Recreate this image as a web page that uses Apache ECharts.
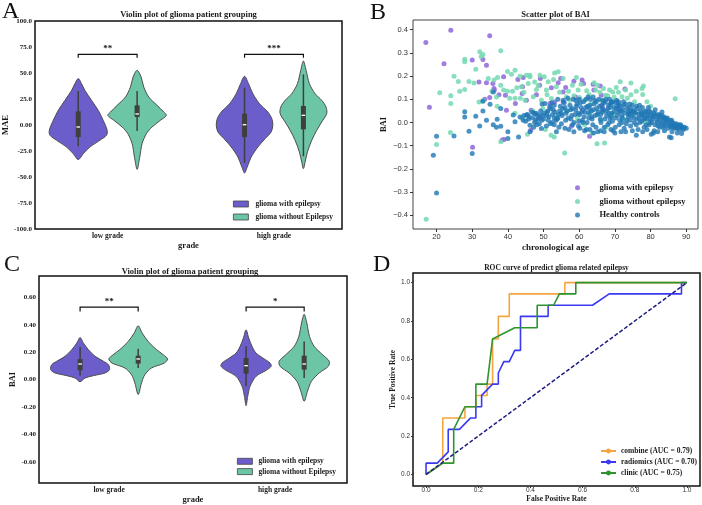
<!DOCTYPE html>
<html>
<head>
<meta charset="utf-8">
<script src="https://cdn.jsdelivr.net/npm/echarts@6/dist/echarts.min.js"></script>
<style>
  html, body { margin: 0; background: #fff; }
  #chart { width: 702px; height: 505px; }
</style>
</head>
<body>
<div id="chart"></div>
<script>
const SERIF = 'Liberation Serif, Times New Roman, serif';
const SANS = 'Liberation Sans, Arial, sans-serif';

const gradeLabels = ['low grade', 'high grade'];
const gradePos = [0, 1];

// violin profiles: [value, half width in category units]
const maeLowWith = [[44.6, 0], [39.7, 0.02], [33.3, 0.04], [23.7, 0.08], [14.1, 0.12], [4.5, 0.15], [-5.1, 0.174], [-9.9, 0.17], [-14.7, 0.13], [-21.2, 0.07], [-27.6, 0.03], [-33.3, 0]];
const maeLowWithout = [[52.6, 0], [46.2, 0.024], [36.5, 0.04], [26.9, 0.07], [18.9, 0.12], [12.5, 0.16], [9.3, 0.176], [4.5, 0.14], [-1.9, 0.09], [-8.3, 0.056], [-17.9, 0.03], [-30.8, 0.016], [-42.6, 0]];
const maeHighWith = [[46.8, 0], [39.7, 0.024], [30.1, 0.05], [20.5, 0.09], [12.5, 0.14], [6.1, 0.164], [-0.3, 0.17], [-6.7, 0.16], [-13.1, 0.124], [-21.2, 0.08], [-30.8, 0.04], [-40.4, 0.016], [-46.2, 0]];
const maeHighWithout = [[61.5, 0], [52.6, 0.016], [39.7, 0.036], [30.1, 0.07], [23.7, 0.11], [17.3, 0.136], [10.9, 0.14], [2.9, 0.11], [-5.1, 0.08], [-14.7, 0.05], [-26, 0.024], [-35.6, 0.01], [-42, 0]];
// box stats: [low whisker, q1, median, q3, high whisker]
const maeBoxWith = [[-20.5, -11.5, -1.9, 13.1, 32.7], [-36.5, -11.5, 0.3, 10.9, 35.9]];
const maeBoxWithout = [[-5.8, 7.7, 10.6, 18.9, 32.7], [-30.1, -4.2, 9.3, 18.3, 48.7]];
const maeSig = [[0, 68], [1, 68]];
const maeSigText = ['**', '***'];

const baiLowWith = [[0.308, 0], [0.267, 0.02], [0.219, 0.05], [0.17, 0.091], [0.134, 0.141], [0.109, 0.171], [0.073, 0.177], [0.049, 0.151], [0.029, 0.08], [0.012, 0.03], [-0.015, 0]];
const baiLowWithout = [[0.393, 0], [0.34, 0.024], [0.279, 0.06], [0.219, 0.111], [0.182, 0.151], [0.151, 0.177], [0.121, 0.157], [0.085, 0.08], [0.036, 0.04], [-0.024, 0.02], [-0.109, 0]];
const baiHighWith = [[0.364, 0], [0.304, 0.016], [0.243, 0.036], [0.194, 0.06], [0.158, 0.101], [0.121, 0.145], [0.097, 0.151], [0.068, 0.121], [0.024, 0.06], [-0.049, 0.024], [-0.121, 0.01], [-0.19, 0]];
const baiHighWithout = [[0.478, 0], [0.413, 0.016], [0.316, 0.032], [0.243, 0.06], [0.182, 0.111], [0.134, 0.151], [0.097, 0.145], [0.049, 0.091], [-0.012, 0.044], [-0.085, 0.02], [-0.158, 0]];
const baiBoxWith = [[0.029, 0.068, 0.114, 0.15, 0.238], [-0.049, 0.044, 0.102, 0.158, 0.243]];
const baiBoxWithout = [[0.085, 0.117, 0.151, 0.175, 0.226], [0.012, 0.073, 0.114, 0.175, 0.279]];
const baiSig = [[0, 0.53], [1, 0.53]];
const baiSigText = ['**', '*'];

// scatter of BAI vs chronological age
const scatterWith = [[17.0, 0.345], [24.0, 0.398], [34.9, 0.374], [22.1, 0.253], [18.0, 0.066], [30.0, 0.27], [33.0, 0.272], [34.0, 0.247], [34.0, 0.171], [31.9, 0.175], [35.8, 0.168], [36.1, 0.147], [36.2, 0.14], [34.9, 0.108], [30.1, -0.107], [38.9, -0.073], [38.4, -0.075], [39.3, 0.118], [38.8, 0.197], [42.8, 0.186], [44.3, 0.194], [44.1, 0.154], [44.0, 0.125], [42.1, 0.082], [45.2, 0.096], [46.5, 0.053], [47.6, 0.039], [49.1, 0.19], [48.9, 0.161], [52.2, 0.15], [54.1, 0.171], [54.8, 0.19], [55.5, 0.132], [56.2, 0.151], [53.1, 0.089], [57.8, -0.016], [58.5, 0.178], [60.8, 0.183], [61.2, 0.168], [63.9, 0.165], [64.1, 0.14], [65.9, 0.157], [66.2, 0.118], [62.9, -0.059], [72.8, 0.145], [61.0, 0.053], [66.5, 0.068], [46.4, -0.033], [55.5, 0.089], [39.6, 0.053], [48.0, 0.12], [48.9, 0.022], [59.0, 0.11], [69.0, 0.09], [71.0, 0.06], [74.0, 0.04], [51.8, 0.082], [37.5, 0.12], [33.5, 0.1]];
const scatterWithout = [[17.1, -0.417], [20.0, -0.095], [23.9, -0.043], [20.9, 0.128], [24.0, 0.115], [24.0, 0.082], [24.9, 0.2], [26.1, 0.177], [27.9, 0.142], [27.9, 0.273], [27.9, 0.262], [29.1, 0.177], [31.0, 0.23], [32.1, 0.305], [33.0, 0.293], [32.5, 0.285], [31.9, 0.088], [33.0, 0.095], [38.0, 0.309], [36.1, 0.183], [37.1, 0.194], [38.0, 0.161], [38.8, 0.14], [39.9, 0.22], [41.0, 0.208], [42.0, 0.225], [39.9, 0.135], [41.3, 0.135], [40.5, 0.105], [42.0, 0.105], [43.5, 0.105], [43.4, 0.2], [43.8, 0.154], [44.8, 0.096], [45.2, 0.204], [46.1, 0.204], [45.7, 0.168], [46.2, 0.197], [47.1, 0.111], [48.0, 0.142], [49.0, 0.204], [49.4, 0.096], [50.2, 0.197], [50.8, 0.14], [51.3, 0.176], [52.2, 0.104], [53.1, 0.214], [54.1, 0.219], [53.6, 0.154], [55.5, 0.19], [55.9, -0.131], [56.4, 0.111], [57.3, 0.096], [58.1, 0.161], [59.2, 0.194], [59.7, 0.14], [60.1, 0.108], [61.5, 0.096], [62.1, 0.137], [63.3, 0.082], [64.2, 0.171], [65.1, 0.161], [64.6, 0.14], [66.1, 0.096], [66.8, 0.147], [67.4, 0.118], [65.0, -0.091], [67.1, -0.088], [68.5, 0.14], [69.4, 0.132], [70.4, 0.151], [71.5, 0.176], [70.4, 0.096], [72.0, 0.111], [73.5, 0.105], [75.5, 0.09], [77.8, 0.121], [77.6, 0.147], [78.0, 0.157], [74.5, 0.17], [86.9, 0.102], [52.1, -0.055], [53.0, -0.062], [63.6, -0.045], [38.0, -0.083], [37.0, 0.07], [42.5, 0.15], [44.5, 0.13], [47.5, 0.175], [48.5, 0.16], [51.0, 0.12], [52.8, 0.185], [54.5, 0.13], [57.0, 0.135], [58.5, 0.115], [60.5, 0.165], [62.8, 0.12], [65.8, 0.13], [68.0, 0.115], [69.8, 0.11], [71.0, 0.13], [73.0, 0.14], [74.5, 0.12], [76.0, 0.135], [79.0, 0.09], [80.0, 0.07], [47.0, 0.05], [49.8, 0.06], [53.5, 0.03], [56.5, 0.05], [59.5, 0.02], [63.0, 0.04], [66.0, 0.01], [69.5, 0.035], [72.5, 0.015], [75.0, 0.03], [78.5, 0.0], [44.0, 0.02], [45.5, -0.05], [50.5, -0.03], [61.5, -0.01], [67.5, -0.02], [81.0, 0.04], [83.5, 0.02], [42.0, 0.04], [35.5, 0.135], [34.5, 0.19], [36.8, 0.11], [30.5, 0.17], [26.5, 0.135]];
const scatterHealthy = [[20.0, -0.059], [19.1, -0.141], [20.0, -0.304], [24.9, -0.058], [27.9, 0.046], [27.9, 0.024], [31.0, 0.027], [29.1, -0.038], [30.0, -0.133], [33.0, 0.05], [32.1, -0.015], [35.0, 0.079], [35.9, -0.01], [36.8, -0.02], [38.0, 0.06], [37.0, 0.014], [34.0, 0.01], [35.9, 0.132], [33.0, 0.092], [38.0, -0.016], [40.0, -0.04], [40.0, -0.069], [43.0, -0.062], [42.0, 0.003], [41.5, 0.032], [43.4, 0.024], [44.3, 0.01], [45.2, 0.032], [46.2, -0.012], [46.2, -0.04], [47.0, 0.02], [47.5, 0.0], [48.0, 0.039], [48.5, 0.015], [49.4, -0.026], [49.8, 0.03], [50.4, 0.082], [51.0, 0.045], [51.3, 0.01], [51.7, 0.068], [52.5, 0.035], [53.0, -0.01], [53.6, -0.04], [54.0, 0.02], [54.5, 0.05], [55.0, -0.005], [55.5, 0.096], [56.0, 0.065],
  [44.5, 0.03], [45.8, 0.015], [46.8, 0.045], [47.2, -0.02], [48.3, 0.03], [48.8, -0.005], [49.5, 0.01], [50.2, 0.04], [50.8, -0.015], [51.5, 0.025], [52.0, 0.06], [52.4, 0.0], [53.2, 0.045], [53.8, 0.015], [54.3, -0.02], [54.7, 0.07], [55.2, 0.03], [55.8, 0.085], [56.2, 0.01], [56.6, 0.05], [57.1, -0.03], [57.4, 0.075], [57.9, 0.03], [58.3, 0.1], [58.6, 0.0], [59.0, 0.055], [59.4, 0.08], [59.8, -0.015], [60.1, 0.035], [60.5, 0.065], [60.9, 0.01], [61.2, 0.09], [61.6, 0.045], [62.0, -0.03], [62.3, 0.07], [62.7, 0.02], [63.1, 0.1], [63.4, 0.05], [63.8, -0.01], [64.2, 0.08], [64.5, 0.03], [64.9, 0.06], [65.2, -0.04], [65.5, 0.1], [65.9, 0.015], [66.3, 0.075], [66.6, 0.045], [67.0, -0.02], [67.3, 0.09], [67.7, 0.03], [68.1, 0.06], [68.4, 0.0], [68.8, 0.08], [69.1, 0.04], [69.5, -0.035], [69.8, 0.065], [70.2, 0.02], [70.5, 0.095], [70.9, 0.045], [71.2, -0.01], [71.6, 0.07], [71.9, 0.03], [72.3, 0.055], [72.6, -0.025], [73.0, 0.08], [73.3, 0.01], [73.7, 0.045], [74.0, 0.065], [74.4, -0.015], [74.7, 0.03], [75.1, 0.055], [75.4, 0.0], [75.8, 0.04], [76.1, 0.07], [76.5, -0.03], [76.8, 0.02], [77.2, 0.05], [77.5, 0.005], [77.9, 0.035], [78.2, -0.02], [78.6, 0.05], [78.9, 0.015], [79.3, 0.03], [79.6, -0.01], [80.0, 0.045], [80.3, 0.0], [80.7, 0.025], [81.0, -0.035], [81.4, 0.035], [81.7, 0.01], [82.1, -0.015], [82.4, 0.02], [82.8, 0.0], [83.1, 0.03], [83.5, -0.02], [83.8, 0.01], [84.2, -0.005], [84.5, 0.015], [84.9, -0.025], [85.2, 0.0], [85.6, -0.015], [85.9, 0.01], [86.3, -0.02], [86.6, -0.005], [87.0, -0.015], [87.4, -0.025], [87.8, -0.01], [88.2, -0.02], [88.6, -0.015], [89.0, -0.025], [89.5, -0.02], [90.0, -0.025], [88.7, -0.047], [85.3, -0.062], [85.8, -0.066], [80.2, -0.05], [80.8, -0.045], [76.0, -0.055], [73.0, -0.04], [70.0, -0.045], [67.0, -0.04], [64.0, -0.045], [61.5, -0.035], [58.5, -0.04], [56.0, -0.025], [60.0, 0.1], [62.5, 0.11], [64.8, 0.09], [67.5, 0.1], [69.0, 0.085], [71.0, 0.09], [56.8, 0.105], [58.0, 0.06], [61.0, 0.0], [63.5, 0.025], [66.0, 0.035], [68.6, 0.02], [71.4, 0.05], [73.8, 0.025], [76.2, 0.015], [78.4, 0.02], [66.8, 0.055], [69.3, 0.005], [72.0, 0.0], [74.8, 0.045], [77.6, 0.03], [79.8, 0.015], [82.6, 0.03], [84.0, 0.02], [70.8, 0.07], [68.2, 0.075], [65.3, 0.045], [62.8, 0.06], [59.7, 0.04], [57.7, 0.015], [55.0, 0.04], [53.0, 0.02], [51.2, 0.05], [49.0, 0.03], [47.8, 0.01], [45.5, 0.035],
  [56.3, 0.04], [56.9, 0.02], [57.6, 0.055], [58.1, -0.01], [58.8, 0.035], [59.2, 0.07], [59.9, 0.005], [60.3, 0.085], [60.7, 0.045], [61.4, 0.025], [61.8, 0.065], [62.2, 0.0], [62.6, 0.04], [63.0, 0.075], [63.6, 0.015], [64.0, 0.055], [64.4, 0.095], [64.7, -0.02], [65.1, 0.035], [65.7, 0.07], [66.1, 0.0], [66.4, 0.055], [66.9, 0.085], [67.2, 0.015], [67.6, 0.05], [68.0, -0.01], [68.3, 0.04], [68.7, 0.065], [69.0, 0.025], [69.4, 0.09], [69.7, 0.045], [70.1, -0.02], [70.4, 0.06], [70.7, 0.03], [71.1, 0.08], [71.4, 0.01], [71.8, 0.05], [72.1, 0.02], [72.5, 0.075], [72.8, 0.04], [73.2, -0.005], [73.5, 0.06], [73.9, 0.035], [74.2, 0.01], [74.6, 0.05], [74.9, 0.075], [75.3, 0.02], [75.6, 0.045], [76.0, -0.01], [76.3, 0.06], [76.7, 0.035], [77.0, 0.0], [77.4, 0.04], [77.7, 0.065], [78.1, 0.015], [78.4, 0.045], [78.8, -0.01], [79.1, 0.035], [79.5, 0.05], [79.8, 0.0], [80.2, 0.03], [80.5, 0.015], [80.9, 0.04], [81.2, -0.01], [81.6, 0.025], [81.9, 0.0], [82.3, 0.035], [82.6, -0.02], [83.0, 0.015], [83.3, -0.005], [83.7, 0.025], [84.0, -0.015], [84.4, 0.005], [84.7, 0.02], [85.1, -0.01], [85.4, 0.01], [85.8, -0.02], [86.1, 0.0], [86.5, -0.01], [86.8, -0.025], [87.2, -0.005], [87.6, -0.02], [88.0, -0.03], [88.4, -0.01], [88.8, -0.02], [89.2, -0.03],
  [60.2, -0.025], [63.0, -0.03], [66.0, -0.035], [68.9, -0.03], [71.7, -0.04], [74.9, -0.035], [77.8, -0.04], [79.0, -0.03], [82.0, -0.04], [83.9, -0.035], [86.0, -0.04], [87.5, -0.045],
  [59.1, 0.095], [61.9, 0.1], [63.9, 0.11], [66.6, 0.095], [68.5, 0.1], [70.2, 0.085], [72.4, 0.09], [74.2, 0.08], [76.9, 0.075], [79.4, 0.065], [81.3, 0.055], [83.2, 0.045],
  [45.0, 0.005], [46.0, 0.025], [47.3, 0.04], [48.1, -0.01], [49.2, 0.05], [50.0, 0.015], [50.9, 0.03], [51.9, -0.005], [52.7, 0.055], [53.5, 0.01], [54.2, 0.035], [55.4, 0.06], [52.3, 0.085], [54.0, 0.1], [53.0, 0.075], [49.6, 0.08]];

// ROC curves: [false positive rate, true positive rate]
const rocCombine = [[0, 0], [0.064, 0.059], [0.064, 0.294], [0.149, 0.294], [0.149, 0.353], [0.191, 0.353], [0.191, 0.412], [0.234, 0.412], [0.234, 0.471], [0.255, 0.471], [0.255, 0.706], [0.277, 0.706], [0.277, 0.824], [0.319, 0.824], [0.319, 0.941], [0.532, 0.941], [0.532, 1.0], [1.0, 1.0]];
const rocRadiomics = [[0, 0], [0, 0.059], [0.043, 0.059], [0.085, 0.118], [0.085, 0.235], [0.128, 0.235], [0.17, 0.294], [0.191, 0.294], [0.191, 0.353], [0.213, 0.353], [0.213, 0.412], [0.255, 0.471], [0.277, 0.471], [0.277, 0.529], [0.298, 0.588], [0.319, 0.588], [0.34, 0.647], [0.362, 0.647], [0.362, 0.824], [0.468, 0.824], [0.468, 0.882], [0.638, 0.882], [0.702, 0.941], [0.979, 0.941], [0.979, 1.0], [1.0, 1.0]];
const rocClinic = [[0, 0], [0.064, 0.059], [0.106, 0.059], [0.106, 0.235], [0.149, 0.353], [0.191, 0.353], [0.191, 0.471], [0.234, 0.471], [0.255, 0.706], [0.34, 0.765], [0.426, 0.765], [0.426, 0.882], [0.489, 0.882], [0.511, 0.941], [0.574, 0.941], [0.574, 1.0], [1.0, 1.0]];
const rocChance = [[0, 0], [1, 1]];
const rocNames = ['combine (AUC = 0.79)', 'radiomics (AUC = 0.70)', 'clinic (AUC = 0.75)'];

const COLOR_WITH = '#6b5dca';
const COLOR_WITHOUT = '#6cc5a5';

function violinRender(profiles, boxes, shift) {
  return function (params, api) {
    const i = params.dataIndex;
    const cx = api.value(0) + shift;
    const prof = profiles[i];
    const pts = prof.map(p => api.coord([cx + p[1], p[0]]));
    for (let k = prof.length - 2; k > 0; k--) {
      pts.push(api.coord([cx - prof[k][1], prof[k][0]]));
    }
    const b = boxes[i];
    const lo = api.coord([cx, b[0]]);
    const q1 = api.coord([cx, b[1]]);
    const med = api.coord([cx, b[2]]);
    const q3 = api.coord([cx, b[3]]);
    const hi = api.coord([cx, b[4]]);
    return {
      type: 'group',
      children: [
        { type: 'polygon', shape: { points: pts, smooth: 0.3 }, style: { fill: api.visual('color'), stroke: '#4d4d4d', lineWidth: 1 } },
        { type: 'line', shape: { x1: hi[0], y1: hi[1], x2: lo[0], y2: lo[1] }, style: { stroke: '#3f3f3f', lineWidth: 1.5 } },
        { type: 'rect', shape: { x: q3[0] - 2.5, y: q3[1], width: 5, height: q1[1] - q3[1] }, style: { fill: '#3f3f3f' } },
        { type: 'line', shape: { x1: med[0] - 1.8, y1: med[1], x2: med[0] + 1.8, y2: med[1] }, style: { stroke: '#fff', lineWidth: 1.3 } }
      ]
    };
  };
}

function bracketRender(labels, shift, drop) {
  return function (params, api) {
    const c = api.value(0);
    const y = api.value(1);
    const p1 = api.coord([c - shift, y]);
    const p2 = api.coord([c + shift, y]);
    const d = api.size([0, drop])[1];
    return {
      type: 'group',
      children: [
        { type: 'polyline', shape: { points: [[p1[0], p1[1] + d], [p1[0], p1[1]], [p2[0], p2[1]], [p2[0], p2[1] + d]] }, style: { stroke: '#111', lineWidth: 1.2, fill: null } },
        { type: 'text', style: { x: (p1[0] + p2[0]) / 2, y: p1[1] - 1, text: labels[params.dataIndex], align: 'center', verticalAlign: 'bottom', font: 'bold 9px ' + SERIF, fill: '#111' } }
      ]
    };
  };
}

const serifTick = { fontFamily: SERIF, fontWeight: 'bold', fontSize: 7, color: '#1a1a1a' };
const serifName = { fontFamily: SERIF, fontWeight: 'bold', fontSize: 8.5, color: '#1a1a1a' };
const sansTick = { fontFamily: SANS, fontSize: 7.5, color: '#333' };
const legendSerif = { fontFamily: SERIF, fontWeight: 'bold', fontSize: 7.5, color: '#1a1a1a', lineHeight: 9 };
const noLine = { show: false, onZero: false };

function violinXAxis(idx, min, max) {
  return {
    type: 'value', gridIndex: idx, min: min, max: max,
    name: 'grade', nameLocation: 'middle', nameGap: 11, nameTextStyle: serifName,
    axisLine: noLine, axisTick: { show: false }, splitLine: { show: false },
    axisLabel: { customValues: gradePos, margin: 3, formatter: v => gradeLabels[Math.round(v)], fontFamily: SERIF, fontWeight: 'bold', fontSize: 7.5, color: '#1a1a1a' }
  };
}

function violinSeries(name, grid, profiles, boxes, shift, color) {
  return {
    type: 'custom', name: name, xAxisIndex: grid, yAxisIndex: grid, silent: true,
    itemStyle: { color: color },
    data: gradePos.map(g => [g, 0]),
    encode: { x: 0, y: 1 },
    renderItem: violinRender(profiles, boxes, shift)
  };
}

function bracketSeries(grid, sig, labels, shift, drop) {
  return {
    type: 'custom', xAxisIndex: grid, yAxisIndex: grid, silent: true,
    data: sig, encode: { x: 0, y: 1 },
    renderItem: bracketRender(labels, shift, drop)
  };
}

function rocSeries(name, data, color) {
  return {
    type: 'line', name: name, xAxisIndex: 3, yAxisIndex: 3, data: data,
    symbol: 'none', silent: true,
    lineStyle: { color: color, width: 1.6 }, itemStyle: { color: color }
  };
}

const chart = echarts.init(document.getElementById('chart'));
const titleStyle = { fontFamily: SERIF, fontWeight: 'bold', fontSize: 8.5, color: '#1a1a1a' };

chart.setOption({
  animation: false,
  backgroundColor: '#fff',
  title: [
    { text: 'Violin plot of glioma patient grouping', left: 188.5, top: 10, textAlign: 'center', padding: 0, textStyle: titleStyle },
    { text: 'Scatter plot of BAI', left: 555.5, top: 10, textAlign: 'center', padding: 0, textStyle: titleStyle },
    { text: 'Violin plot of glioma patient grouping', left: 190, top: 267.5, textAlign: 'center', padding: 0, textStyle: titleStyle },
    { text: 'ROC curve of predict glioma related epilepsy', left: 556.5, top: 264, textAlign: 'center', padding: 0, textStyle: Object.assign({}, titleStyle, { fontSize: 7.5 }) }
  ],
  graphic: [
    { type: 'text', left: 2, top: 0, style: { text: 'A', font: '24px ' + SERIF, fill: '#111' } },
    { type: 'text', left: 370, top: 1, style: { text: 'B', font: '24px ' + SERIF, fill: '#111' } },
    { type: 'text', left: 4, top: 253, style: { text: 'C', font: '24px ' + SERIF, fill: '#111' } },
    { type: 'text', left: 373, top: 253, style: { text: 'D', font: '24px ' + SERIF, fill: '#111' } }
  ],
  grid: [
    { left: 35, top: 21, width: 307, height: 208, show: true, borderColor: '#111', borderWidth: 1.5 },
    { left: 413, top: 20, width: 285, height: 209, show: true, borderColor: '#444', borderWidth: 1 },
    { left: 39, top: 276, width: 308, height: 207, show: true, borderColor: '#111', borderWidth: 1.5 },
    { left: 413, top: 273, width: 287, height: 213, show: true, borderColor: '#111', borderWidth: 1.5 }
  ],
  xAxis: [
    violinXAxis(0, -0.437, 1.409),
    {
      type: 'value', gridIndex: 1, min: 13.4, max: 93.3,
      name: 'chronological age', nameLocation: 'middle', nameGap: 14, nameTextStyle: Object.assign({}, serifName, { fontSize: 9 }),
      axisLine: noLine, splitLine: { show: false },
      axisTick: { customValues: [20, 30, 40, 50, 60, 70, 80, 90], length: 3, lineStyle: { color: '#333' } },
      axisLabel: Object.assign({ customValues: [20, 30, 40, 50, 60, 70, 80, 90], margin: 4 }, sansTick)
    },
    violinXAxis(2, -0.4225, 1.433),
    {
      type: 'value', gridIndex: 3, min: -0.05, max: 1.05,
      name: 'False Positive Rate', nameLocation: 'middle', nameGap: 8, nameTextStyle: Object.assign({}, serifName, { fontSize: 7.5 }),
      axisLine: noLine, splitLine: { show: false },
      axisTick: { customValues: [0, 0.2, 0.4, 0.6, 0.8, 1.0], length: 2, lineStyle: { color: '#333' } },
      axisLabel: Object.assign({ customValues: [0, 0.2, 0.4, 0.6, 0.8, 1.0], margin: 1, formatter: v => v.toFixed(1) }, sansTick, { fontSize: 6.5 })
    }
  ],
  yAxis: [
    {
      type: 'value', gridIndex: 0, min: -100, max: 100, interval: 25,
      name: 'MAE', nameLocation: 'middle', nameGap: 22, nameTextStyle: serifName,
      axisLine: noLine, axisTick: { show: false }, splitLine: { show: false },
      axisLabel: Object.assign({ margin: 3, formatter: v => (v === 0 ? '0.00' : v.toFixed(1)) }, serifTick)
    },
    {
      type: 'value', gridIndex: 1, min: -0.459, max: 0.442,
      name: 'BAI', nameLocation: 'middle', nameGap: 25, nameTextStyle: serifName,
      axisLine: noLine, splitLine: { show: false },
      axisTick: { customValues: [-0.4, -0.3, -0.2, -0.1, 0, 0.1, 0.2, 0.3, 0.4], length: 3, lineStyle: { color: '#333' } },
      axisLabel: Object.assign({
        customValues: [-0.4, -0.3, -0.2, -0.1, 0, 0.1, 0.2, 0.3, 0.4], margin: 5,
        formatter: v => (v < -1e-9 ? '\u2212' : '') + Math.abs(v).toFixed(1)
      }, sansTick)
    },
    {
      type: 'value', gridIndex: 2, min: -0.755, max: 0.757,
      name: 'BAI', nameLocation: 'middle', nameGap: 22, nameTextStyle: serifName,
      axisLine: noLine, axisTick: { show: false }, splitLine: { show: false },
      axisLabel: Object.assign({ customValues: [-0.6, -0.4, -0.2, 0, 0.2, 0.4, 0.6], margin: 3, formatter: v => v.toFixed(2) }, serifTick)
    },
    {
      type: 'value', gridIndex: 3, min: -0.06, max: 1.05,
      name: 'True Positive Rate', nameLocation: 'middle', nameGap: 14, nameTextStyle: Object.assign({}, serifName, { fontSize: 7.5 }),
      axisLine: noLine, splitLine: { show: false },
      axisTick: { customValues: [0, 0.2, 0.4, 0.6, 0.8, 1.0], length: 2, lineStyle: { color: '#333' } },
      axisLabel: Object.assign({ customValues: [0, 0.2, 0.4, 0.6, 0.8, 1.0], margin: 3, formatter: v => v.toFixed(1) }, sansTick, { fontSize: 6.5 })
    }
  ],
  legend: [
    {
      data: ['glioma with epilepsy', 'glioma without Epilepsy'], left: 233, top: 199.5, orient: 'vertical',
      icon: 'rect', itemWidth: 15, itemHeight: 6, itemGap: 4, padding: 0, selectedMode: false,
      itemStyle: { borderColor: '#444', borderWidth: 0.8 }, textStyle: Object.assign({ padding: [0, 0, 0, 2] }, legendSerif)
    },
    {
      data: ['glioma with epilepsy ', 'glioma without epilepsy', 'Healthy controls'], left: 575, top: 182.7, orient: 'vertical',
      icon: 'circle', itemWidth: 20, itemHeight: 5, itemGap: 3.7, padding: 0, selectedMode: false,
      textStyle: Object.assign({ padding: [0, 0, 0, 7] }, legendSerif, { fontSize: 8.5, lineHeight: 10 })
    },
    {
      data: ['glioma with epilepsy', 'glioma without Epilepsy'], left: 237, top: 456.8, orient: 'vertical',
      icon: 'rect', itemWidth: 15, itemHeight: 6, itemGap: 1.3, padding: 0, selectedMode: false,
      itemStyle: { borderColor: '#444', borderWidth: 0.8 }, textStyle: Object.assign({ padding: [0, 0, 0, 1] }, legendSerif)
    },
    {
      data: rocNames, left: 600, top: 446.5, orient: 'vertical',
      itemWidth: 15, itemHeight: 6, itemGap: 2, padding: 0, selectedMode: false,
      textStyle: legendSerif
    }
  ],
  series: [
    violinSeries('glioma with epilepsy', 0, [maeLowWith, maeHighWith], maeBoxWith, -0.177, COLOR_WITH),
    violinSeries('glioma without Epilepsy', 0, [maeLowWithout, maeHighWithout], maeBoxWithout, 0.177, COLOR_WITHOUT),
    bracketSeries(0, maeSig, maeSigText, 0.177, 3.3),
    {
      type: 'scatter', name: 'glioma with epilepsy ', xAxisIndex: 1, yAxisIndex: 1, data: scatterWith,
      symbolSize: 5, silent: true, itemStyle: { color: '#9370db', opacity: 0.9 }
    },
    {
      type: 'scatter', name: 'glioma without epilepsy', xAxisIndex: 1, yAxisIndex: 1, data: scatterWithout,
      symbolSize: 5, silent: true, itemStyle: { color: '#74d9b1', opacity: 0.85 }
    },
    {
      type: 'scatter', name: 'Healthy controls', xAxisIndex: 1, yAxisIndex: 1, data: scatterHealthy,
      symbolSize: 5, silent: true, itemStyle: { color: '#1f77b4', opacity: 0.8 }
    },
    violinSeries('glioma with epilepsy', 2, [baiLowWith, baiHighWith], baiBoxWith, -0.175, COLOR_WITH),
    violinSeries('glioma without Epilepsy', 2, [baiLowWithout, baiHighWithout], baiBoxWithout, 0.175, COLOR_WITHOUT),
    bracketSeries(2, baiSig, baiSigText, 0.175, 0.032),
    rocSeries(rocNames[0], rocCombine, '#f5a53f'),
    rocSeries(rocNames[1], rocRadiomics, '#3a3af2'),
    rocSeries(rocNames[2], rocClinic, '#2e952e'),
    {
      type: 'line', xAxisIndex: 3, yAxisIndex: 3, data: rocChance, symbol: 'none', silent: true,
      lineStyle: { color: '#1c1c80', width: 1.5, type: [4, 2] }
    }
  ]
});
</script>
</body>
</html>
